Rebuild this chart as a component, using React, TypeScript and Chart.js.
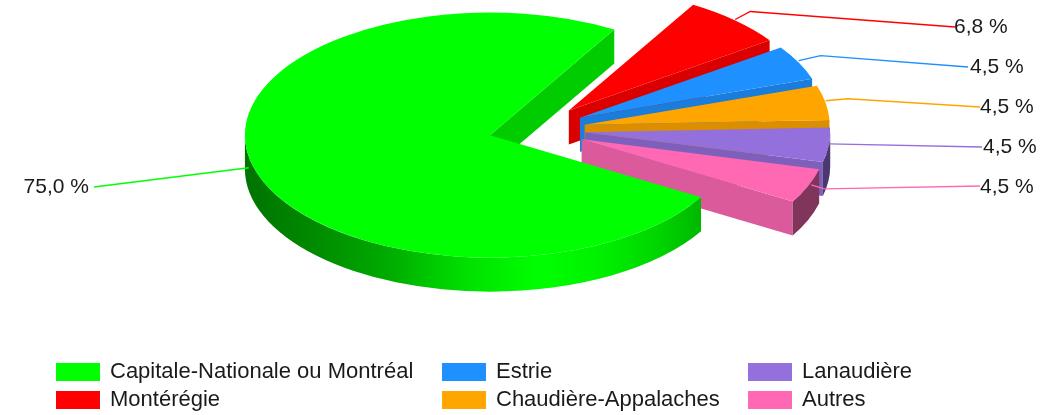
import React, { useEffect, useRef } from "react";
import Chart from "chart.js/auto";

// Data (the labels show these values rounded to one decimal)
const categories = ["Capitale-Nationale ou Montréal", "Montérégie", "Estrie", "Chaudière-Appalaches", "Lanaudière", "Autres"];
const values = [75.0, 6.82, 4.545, 4.545, 4.545, 4.545];
const valueLabels = ["75,0 %", "6,8 %", "4,5 %", "4,5 %", "4,5 %", "4,5 %"];
const colors = ["#00FF00", "#FF0000", "#1E90FF", "#FFA500", "#9370DB", "#FF69B4"];

// Look of the 3D pie
const explode = [45, 52, 52, 52, 52, 52];
const TILT = 0.5;
const DEPTH = 34;
const RADIUS = 245;
const FONT = '"Liberation Sans", Arial, sans-serif';

// Leader lines: elbow relative to slice edge, then the label anchor
const leaderStart = [[-4, 2], [0, -1], [0, -2], [0, -2], [0, -1], [3, -1]];
const leaderElbow = [null, [15, -8], [22, -5], [22, -2], null, [13, 4]];
const leaderEnd = [[94, 187], [955, 27], [968, 67], [980, 107], [982, 147], [980, 186]];
const labelAnchor = [[89, 187, "right"], [954, 27, "left"], [970, 67, "left"], [980, 107, "left"], [983, 147, "left"], [980, 187, "left"]];

// Legend layout
const legendCols = [[56, 110], [442, 496], [748, 802]];
const legendRows = [372, 400];

function shade(hex: string, f: number) {
  const n = parseInt(hex.slice(1), 16);
  const c = [(n >> 16) & 255, (n >> 8) & 255, n & 255].map((v) => Math.round(v * f));
  return `rgb(${c[0]},${c[1]},${c[2]})`;
}

const pie3d = {
  id: "pie3d",
  afterDatasetsUpdate(chart: any) {
    chart.getDatasetMeta(0).data.forEach((arc: any, i: number) => {
      const mid = (arc.startAngle + arc.endAngle) / 2;
      arc.x += explode[i] * Math.cos(mid);
      arc.y += explode[i] * Math.sin(mid);
    });
  },
  beforeDatasetDraw(chart: any) {
    const ctx = chart.ctx;
    const area = chart.chartArea;
    const cy = (area.top + area.bottom) / 2;
    const arcs = chart.getDatasetMeta(0).data;
    const order = [1, 2, 3, 4, 5, 0];
    for (const i of order) {
      const a = arcs[i];
      const r = a.outerRadius;
      const x = a.x;
      const y = cy + TILT * (a.y - cy);
      const color = colors[i];
      const s = a.startAngle;
      const e = a.endAngle;
      // visible radial face at the end of the slice
      if (Math.cos(e) > 0) {
        const px = x + r * Math.cos(e);
        const py = y + TILT * r * Math.sin(e);
        ctx.beginPath();
        ctx.moveTo(x, y);
        ctx.lineTo(px, py);
        ctx.lineTo(px, py + DEPTH);
        ctx.lineTo(x, y + DEPTH);
        ctx.closePath();
        ctx.fillStyle = shade(color, i === 0 ? 0.8 : 0.86);
        ctx.fill();
      }
      // outer wall, only the front half of the rim
      for (const turn of [0, Math.PI * 2]) {
        const a0 = Math.max(s, turn);
        const a1 = Math.min(e, turn + Math.PI);
        if (a1 <= a0) continue;
        ctx.beginPath();
        ctx.ellipse(x, y, r, r * TILT, 0, a0, a1);
        ctx.ellipse(x, y + DEPTH, r, r * TILT, 0, a1, a0, true);
        ctx.closePath();
        if (i === 0) {
          const g = ctx.createLinearGradient(x - r, 0, x + r, 0);
          [[0, 0.45], [0.15, 0.55], [0.3, 0.68], [0.45, 0.88], [0.6, 1], [0.72, 0.95], [0.84, 0.84], [0.93, 0.72], [1, 0.55]].forEach(([p, f]) =>
            g.addColorStop(p, shade(color, f))
          );
          ctx.fillStyle = g;
        } else {
          ctx.fillStyle = shade(color, 0.5);
        }
        ctx.fill();
      }
    }
    ctx.save();
    ctx.translate(0, cy);
    ctx.scale(1, TILT);
    ctx.translate(0, -cy);
  },
  afterDatasetDraw(chart: any) {
    chart.ctx.restore();
  },
  afterDraw(chart: any) {
    const ctx = chart.ctx;
    const area = chart.chartArea;
    const cy = (area.top + area.bottom) / 2;
    const arcs = chart.getDatasetMeta(0).data;
    ctx.save();
    arcs.forEach((a: any, i: number) => {
      const mid = (a.startAngle + a.endAngle) / 2;
      const sx = a.x + a.outerRadius * Math.cos(mid) + leaderStart[i][0];
      const sy = cy + TILT * (a.y - cy) + TILT * a.outerRadius * Math.sin(mid) + leaderStart[i][1];
      ctx.beginPath();
      ctx.moveTo(sx, sy);
      const el = leaderElbow[i];
      if (el) ctx.lineTo(sx + el[0], sy + el[1]);
      ctx.lineTo(leaderEnd[i][0], leaderEnd[i][1]);
      ctx.strokeStyle = colors[i];
      ctx.lineWidth = 1.4;
      ctx.stroke();
      const [lx, ly, align] = labelAnchor[i] as [number, number, CanvasTextAlign];
      ctx.font = `21px ${FONT}`;
      ctx.textAlign = align;
      ctx.textBaseline = "middle";
      ctx.fillStyle = "#1a1a1a";
      ctx.fillText(valueLabels[i], lx, ly);
    });
    // Legend: two rows filled column by column
    categories.forEach((name, i) => {
      const col = legendCols[Math.floor(i / 2)];
      const row = legendRows[i % 2];
      ctx.fillStyle = colors[i];
      ctx.fillRect(col[0], row - 9, 44, 18);
      ctx.font = `22px ${FONT}`;
      ctx.textAlign = "left";
      ctx.textBaseline = "middle";
      ctx.fillStyle = "#1a1a1a";
      ctx.fillText(name, col[1], row);
    });
    ctx.restore();
  },
};

export default function App() {
  const ref = useRef<HTMLCanvasElement>(null);
  useEffect(() => {
    const chart = new Chart(ref.current!, {
      type: "pie",
      data: {
        labels: categories,
        datasets: [{ data: values, backgroundColor: colors, borderWidth: 0, clip: false } as any],
      },
      options: {
        animation: false,
        responsive: false,
        rotation: 120.5,
        radius: RADIUS,
        layout: { padding: { left: 10, bottom: 156 } },
        plugins: { legend: { display: false }, tooltip: { enabled: false } },
      } as any,
      plugins: [pie3d],
    });
    return () => chart.destroy();
  }, []);
  return (
    <canvas
      ref={ref}
      width={1057}
      height={415}
      style={{ position: "absolute", left: 0, top: 0, width: 1057, height: 415, display: "block" }}
    />
  );
}
